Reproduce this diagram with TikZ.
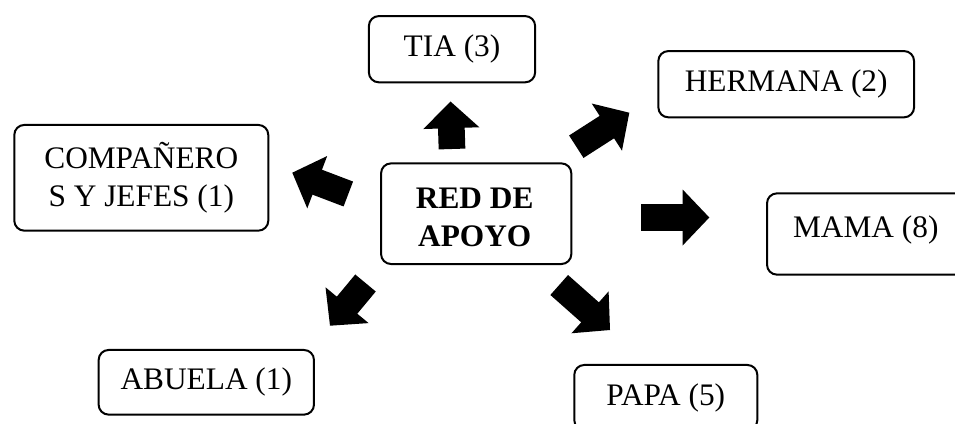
\documentclass[tikz,border=0pt]{standalone}
\usepackage{fontspec}
\setmainfont{Liberation Serif}
\usetikzlibrary{calc}
\newcommand{\barrow}[2]{%
  \coordinate (#1-hb) at ($(#2)!20pt!(#1)$);
  \fill[black] ($(#1)!10pt!90:(#2)$) -- ($(#1-hb)!10pt!-90:(#1)$) -- ($(#1-hb)!21pt!-90:(#1)$) -- (#2) -- ($(#1-hb)!21pt!90:(#1)$) -- ($(#1-hb)!10pt!90:(#1)$) -- ($(#1)!10pt!-90:(#2)$) -- cycle;}
\tikzset{
  box/.style={draw, line width=1.5pt, rounded corners=7.5pt, inner sep=0pt, align=center, fill=white},
  txt/.style={inner sep=0pt, align=center}
}
\begin{document}
\begin{tikzpicture}[x=0.75pt, y=-0.75pt, font=\fontsize{23.5}{28.8}\selectfont]
\useasboundingbox (0,0) rectangle (955,424);
\clip (0,0) rectangle (955,424);
\fill[white] (0,0) rectangle (955,424);
% boxes
\node[box, minimum width=124.7pt, minimum height=49.7pt] (tia) at (452,49.2) {TIA (3)};
\node[box, minimum width=191.8pt, minimum height=49.7pt] (herm) at (786.2,84.2) {HERMANA (2)};
\node[box, minimum width=190.5pt, minimum height=79.3pt] (comp) at (141.3,177.8) {COMPAÑERO\\S Y JEFES (1)};
\node[box, minimum width=142.7pt, minimum height=75.5pt] (red) at (476.2,213.7) {};
\node[txt, font=\fontsize{23.5}{28.8}\selectfont\bfseries] (redt) at (474.7,217.3) {RED DE\\APOYO};
\node[box, minimum width=148.2pt, minimum height=61pt] (mama) at (865.8,234) {};
\node[txt, anchor=base] (mamat) at (865.8,237.7) {MAMA (8)};
\node[box, minimum width=161.5pt, minimum height=48.5pt] (abu) at (206.3,382.3) {ABUELA (1)};
\node[box, minimum width=137.3pt, minimum height=48.8pt] (papa) at (665.8,397.5) {PAPA (5)};
% block arrows
\coordinate (a1t) at (452,149);     \coordinate (a1p) at (450.5,101.5);
\coordinate (a2t) at (348.3,194);   \coordinate (a2p) at (292.3,172.7);
\coordinate (a3t) at (576.3,146.7); \coordinate (a3p) at (629.3,112.7);
\coordinate (a4t) at (641,217.5);   \coordinate (a4p) at (709.3,217.5);
\coordinate (a5t) at (365.5,283);   \coordinate (a5p) at (330,325.7);
\coordinate (a6t) at (559.2,285);   \coordinate (a6p) at (610,330);
\barrow{a1t}{a1p}
\barrow{a2t}{a2p}
\barrow{a3t}{a3p}
\barrow{a4t}{a4p}
\barrow{a5t}{a5p}
\barrow{a6t}{a6p}
\end{tikzpicture}
\end{document}
